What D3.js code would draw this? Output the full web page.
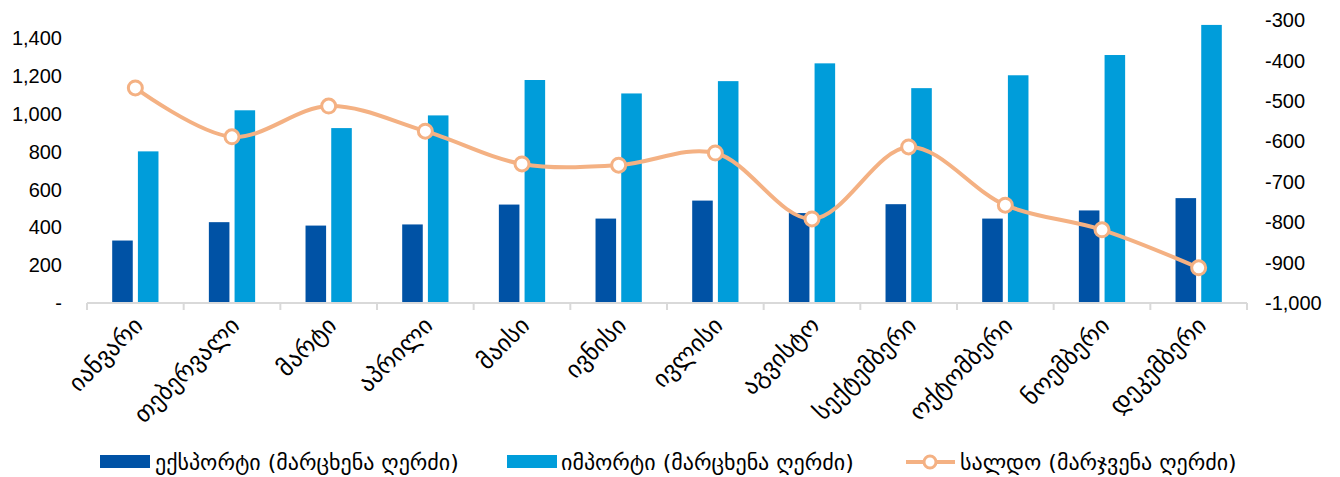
<!DOCTYPE html>
<html>
<head>
<meta charset="utf-8">
<script src="https://cdn.jsdelivr.net/npm/d3@7/dist/d3.min.js"></script>
<style>
  html, body { margin: 0; padding: 0; background: #fff; }
  svg { display: block; }
  .num { font-family: "Liberation Sans", Arial, sans-serif; font-size: 20px; fill: #000; }
  .geo { font-family: "DejaVu Sans", sans-serif; fill: #000; }
</style>
</head>
<body>
<svg id="chart" width="1340" height="477"></svg>
<script>
// Monthly trade, million USD
const months = ["იანვარი", "თებერვალი", "მარტი", "აპრილი", "მაისი", "ივნისი",
                "ივლისი", "აგვისტო", "სექტემბერი", "ოქტომბერი", "ნოემბერი", "დეკემბერი"];
const exportValues = [330, 427, 409, 415, 520, 446, 541, 475, 522, 446, 489, 554];
const importValues = [801, 1018, 924, 991, 1178, 1107, 1172, 1266, 1135, 1203, 1310, 1469];
const balanceValues = [-468, -589, -513, -575, -656, -659, -629, -792, -614, -758, -819, -913];

const leftTicks = [0, 200, 400, 600, 800, 1000, 1200, 1400];
const rightTicks = [-1000, -900, -800, -700, -600, -500, -400, -300];

const legendLabels = ["ექსპორტი (მარცხენა ღერძი)", "იმპორტი (მარცხენა ღერძი)", "სალდო (მარჯვენა ღერძი)"];

const colors = { exp: "#0052A5", imp: "#009DDA", bal: "#F4B183", axis: "#D9D9D9" };

const svg = d3.select("#chart");
const plot = { left: 87, right: 1247, top: 20, bottom: 303 };

const x = d3.scaleBand().domain(months).range([plot.left, plot.right]).padding(0);
const xSub = d3.scaleBand().domain(["exp", "imp"]).range([0, x.bandwidth()])
  .paddingInner(0.2).paddingOuter(0.98);

const yLeft = d3.scaleLinear().domain([0, 1495]).range([plot.bottom, plot.top]);
const yRight = d3.scaleLinear().domain([-1000, -300]).range([plot.bottom, plot.top]);

const thousands = v => d3.format(",")(v).replace("\u2212", "-");
const fmtLeft = v => v === 0 ? "-" : thousands(v);

// Left axis labels
svg.append("g").selectAll("text").data(leftTicks).join("text")
  .attr("class", "num")
  .attr("x", 62).attr("y", d => yLeft(d)).attr("dy", "0.36em")
  .attr("text-anchor", "end")
  .text(fmtLeft);

// Right axis labels
svg.append("g").selectAll("text").data(rightTicks).join("text")
  .attr("class", "num")
  .attr("x", 1265).attr("y", d => yRight(d)).attr("dy", "0.36em")
  .attr("text-anchor", "start")
  .text(thousands);

// Bars
const bars = svg.append("g");
bars.selectAll("rect.exp").data(exportValues).join("rect")
  .attr("class", "exp")
  .attr("x", (d, i) => x(months[i]) + xSub("exp"))
  .attr("width", xSub.bandwidth())
  .attr("y", d => yLeft(d))
  .attr("height", d => yLeft(0) - yLeft(d))
  .attr("fill", colors.exp);
bars.selectAll("rect.imp").data(importValues).join("rect")
  .attr("class", "imp")
  .attr("x", (d, i) => x(months[i]) + xSub("imp"))
  .attr("width", xSub.bandwidth())
  .attr("y", d => yLeft(d))
  .attr("height", d => yLeft(0) - yLeft(d))
  .attr("fill", colors.imp);

// Category axis
const xAxis = svg.append("g");
xAxis.append("line")
  .attr("x1", plot.left).attr("x2", plot.right)
  .attr("y1", plot.bottom).attr("y2", plot.bottom)
  .attr("stroke", colors.axis).attr("stroke-width", 2);
const edges = months.map(m => x(m)).concat([plot.right]);
xAxis.selectAll("line.tick").data(edges).join("line")
  .attr("class", "tick")
  .attr("x1", d => d).attr("x2", d => d)
  .attr("y1", plot.bottom).attr("y2", plot.bottom + 7)
  .attr("stroke", colors.axis).attr("stroke-width", 2);
xAxis.selectAll("text").data(months).join("text")
  .attr("class", "geo")
  .attr("font-size", 24)
  .attr("text-anchor", "end")
  .attr("transform", d => `translate(${x(d) + x.bandwidth() / 2 + 9},${plot.bottom + 24}) rotate(-45)`)
  .text(d => d);

// Balance line (smoothed) with markers
const cx = i => x(months[i]) + x.bandwidth() / 2;
const line = d3.line()
  .x((d, i) => cx(i))
  .y(d => yRight(d))
  .curve(d3.curveCatmullRom.alpha(0.5));
svg.append("path")
  .datum(balanceValues)
  .attr("d", line)
  .attr("fill", "none")
  .attr("stroke", colors.bal)
  .attr("stroke-width", 4)
  .attr("stroke-linecap", "round");
svg.append("g").selectAll("circle").data(balanceValues).join("circle")
  .attr("cx", (d, i) => cx(i))
  .attr("cy", d => yRight(d))
  .attr("r", 7)
  .attr("fill", "#fff")
  .attr("stroke", colors.bal)
  .attr("stroke-width", 3);

// Legend
const legend = svg.append("g");
const ly = 462;
legend.append("rect").attr("x", 100).attr("y", ly - 7).attr("width", 50).attr("height", 13).attr("fill", colors.exp);
legend.append("text").attr("class", "geo").attr("font-size", 22)
  .attr("x", 155).attr("y", ly).attr("dy", "0.35em").text(legendLabels[0]);
legend.append("rect").attr("x", 507).attr("y", ly - 7).attr("width", 50).attr("height", 13).attr("fill", colors.imp);
legend.append("text").attr("class", "geo").attr("font-size", 22)
  .attr("x", 561).attr("y", ly).attr("dy", "0.35em").text(legendLabels[1]);
legend.append("line").attr("x1", 906).attr("x2", 955).attr("y1", ly).attr("y2", ly)
  .attr("stroke", colors.bal).attr("stroke-width", 4);
legend.append("circle").attr("cx", 930).attr("cy", ly).attr("r", 6)
  .attr("fill", "#fff").attr("stroke", colors.bal).attr("stroke-width", 3);
legend.append("text").attr("class", "geo").attr("font-size", 22)
  .attr("x", 960).attr("y", ly).attr("dy", "0.35em").text(legendLabels[2]);
</script>
</body>
</html>
